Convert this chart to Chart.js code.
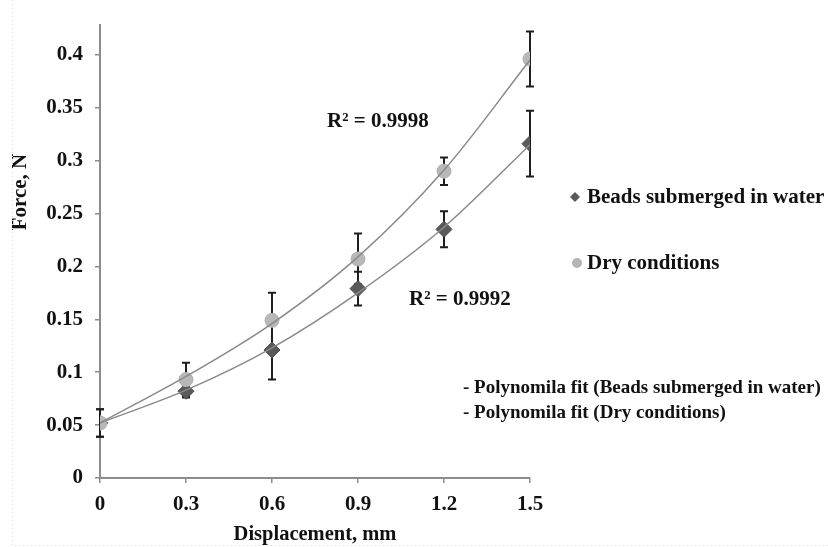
<!DOCTYPE html>
<html>
<head>
<meta charset="utf-8">
<script src="https://cdn.jsdelivr.net/npm/chart.js@4.4.1/dist/chart.umd.min.js"></script>
<style>
  html, body { margin: 0; padding: 0; background: #fff; }
  #wrap { width: 828px; height: 547px; }
</style>
</head>
<body>
<div id="wrap"><canvas id="myChart" width="828" height="547"></canvas></div>
<script>
// values
var displacement = [0, 0.3, 0.6, 0.9, 1.2, 1.5];
var beadsForce = [0.052, 0.082, 0.121, 0.179, 0.235, 0.316];
var beadsError = [0.013, 0.006, 0.028, 0.016, 0.017, 0.031];
var dryForce = [0.052, 0.093, 0.149, 0.207, 0.290, 0.396];
var dryError = [0.013, 0.016, 0.026, 0.024, 0.013, 0.026];
// trend line heights read at each displacement
var beadsFit = [0.052, 0.083, 0.123, 0.175, 0.237, 0.315];
var dryFit = [0.052, 0.096, 0.146, 0.209, 0.291, 0.395];
var xTicks = [0, 0.3, 0.6, 0.9, 1.2, 1.5];
var yTicks = [0, 0.05, 0.1, 0.15, 0.2, 0.25, 0.3, 0.35, 0.4];

var serif = "'Liberation Serif', 'Times New Roman', serif";

function pts(ys) {
  return displacement.map(function (x, i) { return { x: x, y: ys[i] }; });
}

// error bars, drawn under the markers
var errorBars = {
  id: "errorBars",
  beforeDatasetsDraw: function (chart) {
    var ctx = chart.ctx;
    var xs = chart.scales.x, ys = chart.scales.y;
    var sets = [[beadsForce, beadsError], [dryForce, dryError]];
    ctx.save();
    ctx.strokeStyle = "#1e1e1e";
    ctx.lineWidth = 2;
    sets.forEach(function (s) {
      for (var i = 0; i < displacement.length; i++) {
        var px = xs.getPixelForValue(displacement[i]);
        var top = ys.getPixelForValue(s[0][i] + s[1][i]);
        var bot = ys.getPixelForValue(s[0][i] - s[1][i]);
        ctx.beginPath();
        ctx.moveTo(px, top); ctx.lineTo(px, bot);
        ctx.moveTo(px - 4, top); ctx.lineTo(px + 4, top);
        ctx.moveTo(px - 4, bot); ctx.lineTo(px + 4, bot);
        ctx.stroke();
      }
    });
    ctx.restore();
  }
};

// legend, R² notes and y title
var notes = {
  id: "notes",
  afterDraw: function (chart) {
    var ctx = chart.ctx;
    ctx.save();
    ctx.fillStyle = "#111";
    ctx.textBaseline = "middle";
    ctx.textAlign = "left";
    ctx.font = "bold 21px " + serif;
    ctx.fillText("R\u00b2 = 0.9998", 327, 122);
    ctx.fillText("R\u00b2 = 0.9992", 409, 300);
    ctx.fillText("Beads submerged in water", 587, 198);
    ctx.fillText("Dry conditions", 587, 264);
    ctx.font = "bold 19px " + serif;
    ctx.fillText("- Polynomila fit (Beads submerged in water)", 463, 388);
    ctx.fillText("- Polynomila fit (Dry conditions)", 463, 413);

    ctx.save();
    ctx.translate(21, 192);
    ctx.rotate(-Math.PI / 2);
    ctx.textAlign = "center";
    ctx.font = "bold 21px " + serif;
    ctx.fillText("Force, N", 0, 0);
    ctx.restore();

    ctx.fillStyle = "#595959";
    ctx.beginPath();
    ctx.moveTo(575, 192); ctx.lineTo(580, 197); ctx.lineTo(575, 202); ctx.lineTo(570, 197);
    ctx.closePath(); ctx.fill();
    ctx.fillStyle = "#b5b5b5";
    ctx.beginPath();
    ctx.arc(577, 263, 5, 0, Math.PI * 2);
    ctx.fill();

    // faint frame of the original figure
    ctx.strokeStyle = "#dcdcdc";
    ctx.lineWidth = 1;
    ctx.setLineDash([1, 3]);
    ctx.beginPath();
    ctx.moveTo(12.5, 0); ctx.lineTo(12.5, 545.5); ctx.lineTo(828, 545.5);
    ctx.stroke();
    ctx.restore();
  }
};

var chartdata = document.getElementById("myChart").getContext("2d");
var chart = new Chart(chartdata, {
  type: "scatter",
  data: {
    datasets: [
      {
        label: "Polynomila fit (Dry conditions)",
        data: pts(dryFit),
        showLine: true,
        borderColor: "#8a8a8a",
        borderWidth: 1.5,
        pointRadius: 0,
        cubicInterpolationMode: "monotone",
        order: 0
      },
      {
        label: "Polynomila fit (Beads submerged in water)",
        data: pts(beadsFit),
        showLine: true,
        borderColor: "#8a8a8a",
        borderWidth: 1.5,
        pointRadius: 0,
        cubicInterpolationMode: "monotone",
        order: 0
      },
      {
        label: "Dry conditions",
        data: pts(dryForce),
        pointStyle: "circle",
        pointRadius: 7,
        backgroundColor: "#b8b8b8",
        borderColor: "#b0b0b0",
        borderWidth: 1,
        order: 1
      },
      {
        label: "Beads submerged in water",
        data: pts(beadsForce),
        pointStyle: "rectRot",
        pointRadius: 8,
        backgroundColor: "#5a5a5a",
        borderColor: "#4a4a4a",
        borderWidth: 1,
        order: 2
      }
    ]
  },
  options: {
    responsive: false,
    animation: false,
    layout: { padding: { top: 12, right: 298, left: 0, bottom: 0 } },
    plugins: {
      legend: { display: false },
      tooltip: { enabled: false }
    },
    scales: {
      x: {
        type: "linear",
        min: 0,
        max: 1.5,
        afterBuildTicks: function (s) { s.ticks = xTicks.map(function (v) { return { value: v }; }); },
        afterFit: function (s) { s.height = 69; },
        grid: { drawOnChartArea: false, drawTicks: true, tickLength: 5, color: "#8c8c8c", lineWidth: 1.5 },
        border: { color: "#8c8c8c", width: 2 },
        ticks: {
          color: "#111",
          padding: 9,
          font: { family: serif, size: 21, weight: "bold" },
          callback: function (v) { return String(v); }
        },
        title: {
          display: true,
          text: "Displacement, mm",
          color: "#111",
          font: { family: serif, size: 20.5, weight: "bold" },
          padding: { top: 0, bottom: 0 }
        }
      },
      y: {
        min: 0,
        max: 0.4285,
        afterBuildTicks: function (s) { s.ticks = yTicks.map(function (v) { return { value: v }; }); },
        afterFit: function (s) { s.width = 100; },
        grid: { drawOnChartArea: false, drawTicks: true, tickLength: 5, color: "#8c8c8c", lineWidth: 1.5 },
        border: { color: "#8c8c8c", width: 2 },
        ticks: {
          color: "#111",
          padding: 12,
          font: { family: serif, size: 21, weight: "bold" },
          callback: function (v) { return String(v); }
        }
      }
    }
  },
  plugins: [errorBars, notes]
});
</script>
</body>
</html>
